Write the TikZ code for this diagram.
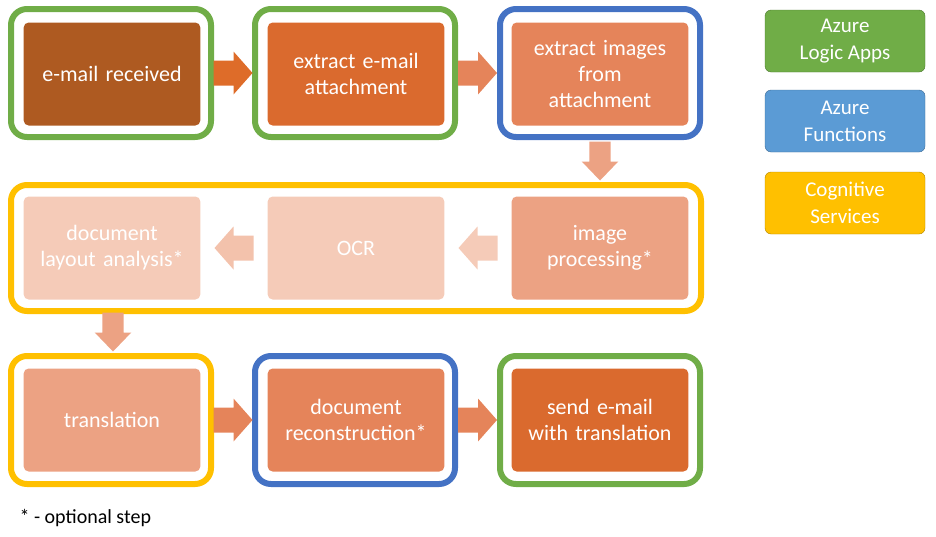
\documentclass[tikz,border=0pt]{standalone}
\usepackage{fontspec}
\setmainfont{Carlito}
\usetikzlibrary{calc}
\definecolor{gfr}{HTML}{70AD47}
\definecolor{bfr}{HTML}{4472C4}
\definecolor{lblue}{HTML}{5B9BD5}
\definecolor{yfr}{HTML}{FFC000}
\definecolor{c1}{HTML}{AE5A21}
\definecolor{c2}{HTML}{DA6A2E}
\definecolor{c3}{HTML}{E5845A}
\definecolor{c4}{HTML}{ECA283}
\definecolor{c5}{HTML}{F3C2AC}
\tikzset{
 frame/.style={draw=#1,line width=6pt,rounded corners=16pt,minimum width=200pt,minimum height=128pt},
 box/.style={fill=#1,rounded corners=5pt,minimum width=172pt,minimum height=103pt,text width=170pt,align=center,text=white,font=\fontsize{22}{26}\selectfont},
 blk/.pic={\fill[pic actions] (-19.5,-12.5) -- (0.5,-12.5) -- (0.5,-21.5) -- (19.5,0) -- (0.5,21.5) -- (0.5,12.5) -- (-19.5,12.5) -- cycle;},
 leg/.style={fill=#1,draw=#1!70!black,rounded corners=6pt,minimum width=160pt,minimum height=62pt,align=center,text=white,font=\fontsize{21}{27}\selectfont}
}
\begin{document}
\begin{tikzpicture}[x=1pt,y=-1pt]
\useasboundingbox (0,0) rectangle (936,536);
% frames
\node[frame=gfr] (f1) at (111,73) {};
\node[frame=gfr] (f2) at (355,73) {};
\node[frame=bfr] (f3) at (600,73) {};
\draw[yfr,line width=6pt,rounded corners=16pt] (11,185) rectangle (701,311);
\node[frame=yfr] (f7) at (111,420) {};
\node[frame=bfr] (f8) at (355,420) {};
\node[frame=gfr] (f9) at (600,420) {};
% boxes
\node[box=c1] (b1) at (112,74) {e-mail received};
\node[box=c2] (b2) at (356,74) {extract e-mail\\attachment};
\node[box=c3] (b3) at (600,74) {extract images\\from\\attachment};
\node[box=c4] (b4) at (600,248) {image\\processing*};
\node[box=c5!85!white] (b5) at (356,248) {OCR};
\node[box=c5!85!white] (b6) at (112,248) {document\\layout analysis*};
\node[box=c4] (b7) at (112,420) {translation};
\node[box=c3] (b8) at (356,420) {document\\reconstruction*};
\node[box=c2] (b9) at (600,420) {send e-mail\\with translation};
% arrows
\pic[fill=c2!90!orange] at ($(f1.east)!0.5!(f2.west)$) {blk};
\pic[fill=c3] at ($(f2.east)!0.5!(f3.west)$) {blk};
\pic[fill=c4,rotate=-90,yscale=0.85] at ($(f3.south)+(0,21)$) {blk};
\pic[fill=c5!85!white,rotate=180] at ($(b4.west)!0.5!(b5.east)$) {blk};
\pic[fill=c5,rotate=180] at ($(b5.west)!0.5!(b6.east)$) {blk};
\pic[fill=c4,rotate=-90,yscale=0.85] at ($(f7.north)+(2,-21)$) {blk};
\pic[fill=c3] at ($(f7.east)!0.5!(f8.west)$) {blk};
\pic[fill=c3] at ($(f8.east)!0.5!(f9.west)$) {blk};
% legend
\node[leg=gfr] (l1) at (845,41) {Azure\\Logic Apps};
\node[leg=lblue] (l2) at (845,121) {Azure\\Functions};
\node[leg=yfr] (l3) at (845,203) {Cognitive\\Services};
\node[anchor=west,font=\fontsize{20}{24}\selectfont] (fn) at (16,518) {* - optional step};
\end{tikzpicture}
\end{document}
